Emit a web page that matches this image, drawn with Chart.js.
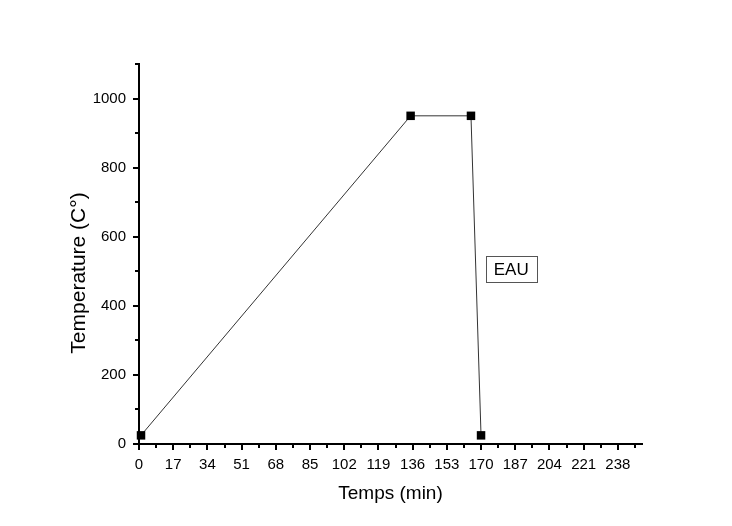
<!DOCTYPE html>
<html>
<head>
<meta charset="utf-8">
<script src="https://cdn.jsdelivr.net/npm/chart.js@4"></script>
<style>
  html, body { margin: 0; padding: 0; background: #fff; }
  #wrap { width: 732px; height: 526px; }
</style>
</head>
<body>
<div id="wrap"><canvas id="heatChart" width="732" height="526"></canvas></div>
<script>
const timeValues = [1, 135, 165, 170];
const tempValues = [25, 950, 950, 25];
const xTicks = [0, 17, 34, 51, 68, 85, 102, 119, 136, 153, 170, 187, 204, 221, 238];
const yTicks = [0, 200, 400, 600, 800, 1000];
const xMinor = [8.5, 25.5, 42.5, 59.5, 76.5, 93.5, 110.5, 127.5, 144.5, 161.5, 178.5, 195.5, 212.5, 229.5, 246.5];
const yMinor = [100, 300, 500, 700, 900, 1100];
const noteText = "EAU";
const yTitle = "Temperature (C°)";

Chart.defaults.font.family = "'Liberation Sans', Arial, sans-serif";
Chart.defaults.color = '#000';

const ctx = document.getElementById("heatChart");

// minor ticks, y title, EAU box
const extrasPlugin = {
  id: 'extras',
  afterDraw(chart) {
    const c = chart.ctx;
    const xs = chart.scales.x;
    const ys = chart.scales.y;
    const area = chart.chartArea;
    c.save();
    c.strokeStyle = '#000';
    c.lineWidth = 2;
    xMinor.forEach(v => {
      const px = Math.round(xs.getPixelForValue(v));
      c.beginPath();
      c.moveTo(px, area.bottom);
      c.lineTo(px, area.bottom + 4);
      c.stroke();
    });
    yMinor.forEach(v => {
      const py = Math.round(ys.getPixelForValue(v));
      c.beginPath();
      c.moveTo(area.left, py);
      c.lineTo(area.left - 4, py);
      c.stroke();
    });

    // y axis title, a bit below the middle like the original
    c.save();
    c.translate(79, 273);
    c.rotate(-Math.PI / 2);
    c.font = "21px 'Liberation Sans', Arial, sans-serif";
    c.fillStyle = '#000';
    c.textAlign = 'center';
    c.textBaseline = 'middle';
    c.fillText(yTitle, 0, 0);
    c.restore();

    // label box
    const cx = xs.getPixelForValue(185);
    const cy = ys.getPixelForValue(507);
    c.font = "17px 'Liberation Sans', Arial, sans-serif";
    const w = 51;
    const h = 26;
    c.lineWidth = 1;
    c.strokeStyle = '#555';
    c.strokeRect(Math.round(cx - w / 2) + 0.5, Math.round(cy - h / 2) + 0.5, w, h);
    c.fillStyle = '#000';
    c.textAlign = 'center';
    c.textBaseline = 'middle';
    c.fillText(noteText, cx, cy + 1.5);
    c.restore();
  }
};

const tempChart = new Chart(ctx, {
  type: "line",
  data: {
    datasets: [
      {
        label: "Temperature",
        data: timeValues.map((t, i) => ({ x: t, y: tempValues[i] })),
        borderColor: '#333',
        borderWidth: 1,
        pointStyle: 'rect',
        pointRadius: 6,
        pointHoverRadius: 6,
        pointBackgroundColor: '#000',
        pointBorderColor: '#000',
        pointBorderWidth: 0,
        tension: 0,
        clip: false,
      },
    ],
  },
  options: {
    responsive: false,
    animation: false,
    layout: {
      padding: { left: 61, right: 90, top: 64, bottom: 17 },
    },
    plugins: {
      legend: { display: false },
      tooltip: { enabled: false },
    },
    scales: {
      x: {
        type: 'linear',
        min: 0,
        max: 250,
        afterBuildTicks: (scale) => {
          scale.ticks = xTicks.map(v => ({ value: v }));
        },
        afterFit: (scale) => { scale.height = 65; },
        border: { display: true, color: '#000', width: 2 },
        grid: {
          drawOnChartArea: false,
          drawTicks: true,
          tickLength: 6,
          tickColor: '#000',
          lineWidth: 2,
        },
        ticks: {
          font: { size: 15 },
          padding: 6,
          maxRotation: 0,
          autoSkip: false,
          callback: (v) => String(v),
        },
        title: {
          display: true,
          text: "Temps (min)",
          font: { size: 19 },
          padding: { top: 4 },
        },
      },
      y: {
        type: 'linear',
        min: 0,
        max: 1100,
        afterBuildTicks: (scale) => {
          scale.ticks = yTicks.map(v => ({ value: v }));
        },
        afterFit: (scale) => { scale.width = 78; },
        border: { display: true, color: '#000', width: 2 },
        grid: {
          drawOnChartArea: false,
          drawTicks: true,
          tickLength: 6,
          tickColor: '#000',
          lineWidth: 2,
        },
        ticks: {
          font: { size: 15 },
          padding: 7,
          callback: (v) => String(v),
        },
        title: { display: false },
      },
    },
  },
  plugins: [extrasPlugin],
});
</script>
</body>
</html>
